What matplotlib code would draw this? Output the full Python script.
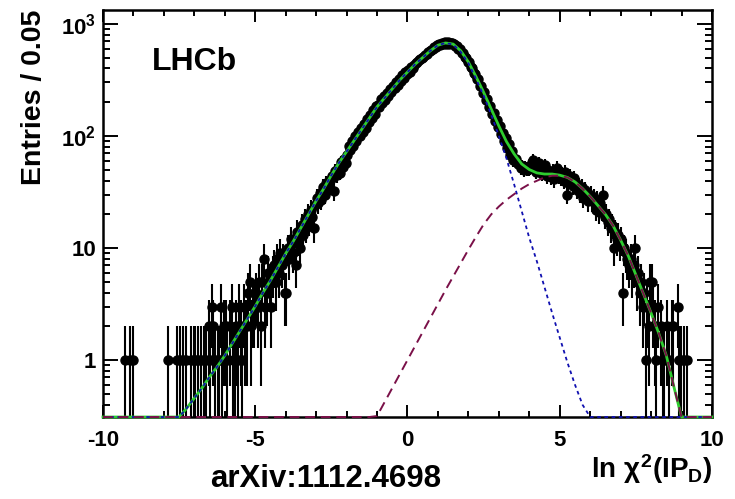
import numpy as np
import matplotlib
matplotlib.use('Agg')
import matplotlib.pyplot as plt
from matplotlib.ticker import MultipleLocator, LogLocator, NullFormatter


# - - - - - - - - - - - - - - - - - - - - - - - - - - - - - - - - - - - - - - - -
# entries per 0.05 bin, bins centred at -9.975, -9.925, ... , 9.975
# one row of 20 bins = one unit of ln chi2
counts_left = [  # -10 .. -5
    0, 0, 0, 0, 0, 0, 0, 0, 0, 0, 0, 0, 0, 0, 1, 0, 0, 1, 0, 1,
    0, 0, 0, 0, 0, 0, 0, 0, 0, 0, 0, 0, 0, 0, 0, 0, 0, 0, 0, 0,
    0, 0, 1, 0, 0, 0, 0, 0, 1, 0, 1, 0, 1, 0, 1, 0, 0, 1, 0, 1,
    1, 0, 1, 0, 1, 0, 1, 1, 0, 2, 1, 3, 2, 1, 0, 1, 1, 3, 1, 2,
    2, 1, 0, 2, 3, 1, 1, 2, 1, 3, 2, 1, 3, 2, 2, 4, 5, 2, 3, 3,
]
counts_rise = [  # -5 .. 0
    4, 3, 5, 2, 5, 8, 3, 4, 6, 5, 3, 6, 7, 5, 8, 6, 9, 7, 8, 4,
    4, 10, 8, 12, 9, 11, 7, 14, 12, 10, 16, 13, 18, 15, 20, 17, 22, 19, 15, 24,
    28, 25, 31, 27, 35, 30, 38, 33, 36, 41, 44, 32, 49, 45, 52, 47, 58, 53, 62, 57,
    68, 82, 75, 90, 82, 99, 90, 108, 100, 118, 108, 129, 118, 143, 132, 155, 144, 171, 158, 184,
    188, 182, 212, 198, 226, 211, 244, 229, 261, 247, 281, 266, 301, 286, 325, 308, 347, 332, 371, 354,
]
counts_peak = [  # 0 .. 5
    390, 370, 415, 408, 430, 446, 458, 474, 482, 498, 510, 528, 540, 558, 570, 586, 598, 616, 625, 644,
    660, 645, 675, 657, 685, 665, 694, 668, 670, 676, 655, 636, 630, 596, 600, 551, 550, 508, 495, 461,
    455, 411, 405, 364, 360, 321, 320, 281, 280, 241, 245, 211, 215, 181, 186, 157, 161, 137, 139, 120,
    122, 104, 106, 90, 95, 78, 84, 68, 74, 61, 62, 62, 56, 56, 52, 54, 50, 53, 51, 51,
    52, 58, 61, 55, 48, 53, 57, 49, 46, 52, 55, 44, 50, 47, 43, 49, 41, 46, 52, 44,
]
counts_right = [  # 5 .. 10
    42, 46, 40, 48, 30, 38, 44, 40, 36, 42, 38, 33, 36, 31, 35, 28, 33, 30, 26, 29,
    30, 26, 28, 22, 27, 21, 25, 22, 30, 19, 20, 17, 18, 15, 16, 10, 14, 12, 13, 11,
    12, 4, 10, 9, 8, 7, 8, 6, 7, 10, 5, 6, 4, 5, 3, 4, 1, 3, 2, 5,
    5, 3, 2, 1, 3, 0, 2, 1, 1, 0, 2, 1, 0, 2, 2, 0, 0, 3, 1, 1,
    0, 1, 0, 1, 0, 0, 0, 0, 0, 0, 0, 0, 0, 0, 0, 0, 0, 0, 0, 0,
]

# fit curves, log10(entries) read every 0.25 from -10 to 10
# -1 means below the bottom of the frame
fit_total_log = [
    -1, -1, -1, -1, -1, -1, -1, -1, -1, -0.65, -0.53, -0.43, -0.34, -0.25, -0.15, -0.06,
    0.04, 0.15, 0.26, 0.37, 0.48, 0.60, 0.71, 0.83, 0.95, 1.06, 1.18, 1.30, 1.42, 1.53,
    1.65, 1.76, 1.86, 1.96, 2.06, 2.16, 2.26, 2.34, 2.42, 2.50, 2.57, 2.64, 2.70, 2.76,
    2.81, 2.83, 2.82, 2.76, 2.66, 2.53, 2.39, 2.24, 2.09, 1.95, 1.84, 1.75, 1.70, 1.67,
    1.66, 1.66, 1.65, 1.63, 1.59, 1.53, 1.46, 1.38, 1.30, 1.20, 1.07, 0.93, 0.76, 0.59,
    0.42, 0.24, 0.04, -0.24, -0.60, -1, -1, -1, -1,
]
fit_prompt_log = [
    -1, -1, -1, -1, -1, -1, -1, -1, -1, -0.65, -0.53, -0.43, -0.34, -0.25, -0.15, -0.06,
    0.04, 0.15, 0.26, 0.37, 0.48, 0.60, 0.71, 0.83, 0.95, 1.06, 1.18, 1.30, 1.42, 1.53,
    1.65, 1.76, 1.86, 1.96, 2.06, 2.16, 2.26, 2.34, 2.42, 2.50, 2.57, 2.64, 2.70, 2.76,
    2.81, 2.83, 2.815, 2.75, 2.65, 2.51, 2.36, 2.19, 2.00, 1.80, 1.57, 1.33, 1.09, 0.88,
    0.65, 0.42, 0.20, -0.02, -0.22, -0.40, -0.58, -1, -1, -1, -1, -1, -1, -1,
    -1, -1, -1, -1, -1, -1, -1, -1, -1,
]
fit_secondary_log = [
    -1, -1, -1, -1, -1, -1, -1, -1, -1, -1, -1, -1, -1, -1, -1, -1,
    -1, -1, -1, -1, -1, -1, -1, -1, -1, -1, -1, -1, -1, -1,
    -1, -1, -1, -1, -1, -1, -0.50, -0.375, -0.25, -0.125, 0.0, 0.125, 0.25, 0.375,
    0.50, 0.625, 0.745, 0.865, 0.985, 1.10, 1.21, 1.30, 1.37, 1.43, 1.48, 1.53, 1.57, 1.60,
    1.63, 1.645, 1.645, 1.63, 1.59, 1.53, 1.46, 1.38, 1.30, 1.20, 1.07, 0.93, 0.76, 0.59,
    0.42, 0.24, 0.04, -0.24, -0.60, -1, -1, -1, -1,
]

YMIN, YMAX = 0.31, 1330

plt.rcParams['font.family'] = ['Liberation Sans', 'DejaVu Sans']
plt.rcParams['font.weight'] = 'bold'
plt.rcParams['axes.unicode_minus'] = False
plt.rcParams['mathtext.fontset'] = 'custom'
plt.rcParams['mathtext.rm'] = 'Liberation Sans:bold'
plt.rcParams['mathtext.it'] = 'Liberation Sans:bold'
plt.rcParams['mathtext.bf'] = 'Liberation Sans:bold'

fig = plt.figure(figsize=(7.35, 4.99), dpi=100)
ax = fig.add_axes([0.1401, 0.1643, 0.8286, 0.8156])

# data points
n = np.array(counts_left + counts_rise + counts_peak + counts_right, dtype=float)
x = np.arange(len(n)) * 0.05 - 9.975
m = n > 0
lo = n[m] - np.maximum(n[m] - np.sqrt(n[m]), 0.05)
hi = np.sqrt(n[m])
ax.errorbar(x[m], n[m], yerr=[lo, hi], fmt='o', color='black', ms=6.5,
            elinewidth=1.5, capsize=0, zorder=2)

# fit components, clipped to the frame like ROOT does
cx = np.arange(len(fit_total_log)) * 0.25 - 10
def curve(logs):
    return np.clip(10.0 ** np.array(logs), YMIN, None)

ax.plot(cx, curve(fit_total_log), color='#2ecc2e', lw=2.0, clip_on=False, zorder=3)
ax.plot(cx, curve(fit_prompt_log), color='#1010b0', lw=1.3, ls=(0, (2, 2)),
        clip_on=False, zorder=4)
ax.plot(cx, curve(fit_secondary_log), color='#7a1048', lw=1.4, ls=(0, (5, 3)),
        clip_on=False, zorder=5)

ax.set_yscale('log')
ax.set_xlim(-10, 10)
ax.set_ylim(YMIN, YMAX)

ax.xaxis.set_major_locator(MultipleLocator(5))
ax.xaxis.set_minor_locator(MultipleLocator(1))
ax.set_yticks([1, 10, 100, 1000], labels=['1', '10', r'$10^{2}$', r'$10^{3}$'])
ax.yaxis.set_minor_locator(LogLocator(base=10, subs=np.arange(2, 10) * 1.0, numticks=20))
ax.yaxis.set_minor_formatter(NullFormatter())

ax.tick_params(which='both', direction='in', top=True, right=True, width=1.4)
ax.tick_params(axis='x', which='major', length=8.5, pad=9, labelsize=16)
ax.tick_params(axis='x', which='minor', length=4)
ax.tick_params(axis='y', which='major', length=11, pad=5, labelsize=16)
ax.tick_params(axis='y', which='minor', length=5)
for s in ax.spines.values():
    s.set_linewidth(1.8)

fig.text(34 / 735, 1 - 10 / 499, 'Entries / 0.05', rotation=90, ha='center',
         va='top', fontsize=20.5, fontweight='bold')
fig.text(712 / 735, 1 - 478 / 499, r'ln $\chi^{2}$(IP$_{D}$)', ha='right',
         va='baseline', fontsize=20, fontweight='bold')
fig.text(326 / 735, 1 - 487 / 499, 'arXiv:1112.4698', ha='center', va='baseline',
         fontsize=22.5, fontweight='bold')
fig.text(152 / 735, 1 - 70 / 499, 'LHCb', ha='left', va='baseline',
         fontsize=23, fontweight='bold')

plt.savefig('out.png', dpi=100)
